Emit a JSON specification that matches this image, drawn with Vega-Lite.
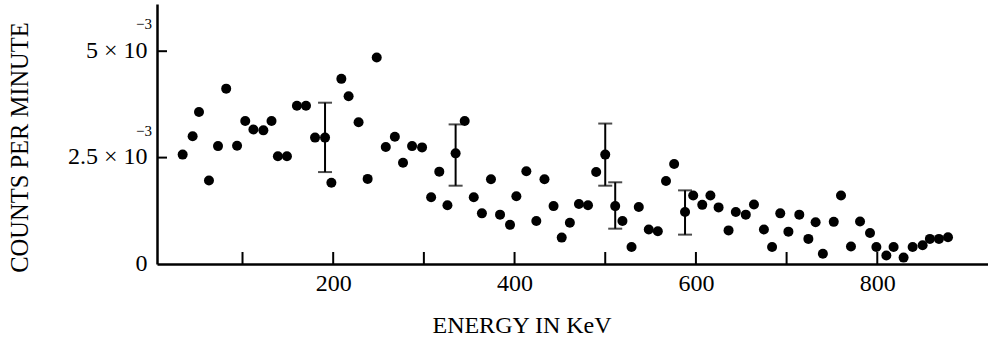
{
  "$schema": "https://vega.github.io/schema/vega-lite/v6.json",
  "autosize": "none",
  "width": 831,
  "height": 260,
  "padding": {"left": 157, "top": 4, "right": 0, "bottom": 75},
  "background": "white",
  "config": {"view": {"stroke": null}},
  "datasets": {
    "points": [
      {"energy": 34, "counts": 0.00257},
      {"energy": 45, "counts": 0.00300},
      {"energy": 52, "counts": 0.00357},
      {"energy": 63, "counts": 0.00196},
      {"energy": 73, "counts": 0.00277},
      {"energy": 82, "counts": 0.00412},
      {"energy": 94, "counts": 0.00278},
      {"energy": 103, "counts": 0.00336},
      {"energy": 112, "counts": 0.00316},
      {"energy": 123, "counts": 0.00314},
      {"energy": 132, "counts": 0.00336},
      {"energy": 139, "counts": 0.00253},
      {"energy": 149, "counts": 0.00253},
      {"energy": 160, "counts": 0.00372},
      {"energy": 170, "counts": 0.00372},
      {"energy": 180, "counts": 0.00297},
      {"energy": 191, "counts": 0.00297, "low": 0.00216, "high": 0.00379},
      {"energy": 198, "counts": 0.00191},
      {"energy": 209, "counts": 0.00435},
      {"energy": 217, "counts": 0.00394},
      {"energy": 228, "counts": 0.00333},
      {"energy": 238, "counts": 0.00200},
      {"energy": 248, "counts": 0.00485},
      {"energy": 258, "counts": 0.00275},
      {"energy": 268, "counts": 0.00299},
      {"energy": 277, "counts": 0.00238},
      {"energy": 287, "counts": 0.00277},
      {"energy": 298, "counts": 0.00274},
      {"energy": 308, "counts": 0.00157},
      {"energy": 317, "counts": 0.00217},
      {"energy": 326, "counts": 0.00138},
      {"energy": 335, "counts": 0.00260, "low": 0.00184, "high": 0.00328},
      {"energy": 345, "counts": 0.00336},
      {"energy": 355, "counts": 0.00157},
      {"energy": 364, "counts": 0.00119},
      {"energy": 374, "counts": 0.00199},
      {"energy": 384, "counts": 0.00116},
      {"energy": 395, "counts": 0.00092},
      {"energy": 402, "counts": 0.00159},
      {"energy": 413, "counts": 0.00218},
      {"energy": 424, "counts": 0.00101},
      {"energy": 433, "counts": 0.00199},
      {"energy": 443, "counts": 0.00136},
      {"energy": 452, "counts": 0.00062},
      {"energy": 461, "counts": 0.00097},
      {"energy": 471, "counts": 0.00141},
      {"energy": 481, "counts": 0.00138},
      {"energy": 490, "counts": 0.00216},
      {"energy": 500, "counts": 0.00257, "low": 0.00184, "high": 0.00330},
      {"energy": 511, "counts": 0.00136, "low": 0.00083, "high": 0.00192},
      {"energy": 519, "counts": 0.00101},
      {"energy": 529, "counts": 0.00040},
      {"energy": 537, "counts": 0.00134},
      {"energy": 548, "counts": 0.00081},
      {"energy": 558, "counts": 0.00077},
      {"energy": 567, "counts": 0.00195},
      {"energy": 576, "counts": 0.00235},
      {"energy": 588, "counts": 0.00122, "low": 0.00069, "high": 0.00173},
      {"energy": 597, "counts": 0.00161},
      {"energy": 607, "counts": 0.00139},
      {"energy": 616, "counts": 0.00161},
      {"energy": 625, "counts": 0.00133},
      {"energy": 636, "counts": 0.00079},
      {"energy": 644, "counts": 0.00122},
      {"energy": 655, "counts": 0.00116},
      {"energy": 664, "counts": 0.00140},
      {"energy": 675, "counts": 0.00081},
      {"energy": 684, "counts": 0.00040},
      {"energy": 693, "counts": 0.00119},
      {"energy": 702, "counts": 0.00076},
      {"energy": 714, "counts": 0.00116},
      {"energy": 724, "counts": 0.00059},
      {"energy": 732, "counts": 0.00098},
      {"energy": 740, "counts": 0.00024},
      {"energy": 752, "counts": 0.00099},
      {"energy": 760, "counts": 0.00161},
      {"energy": 771, "counts": 0.00041},
      {"energy": 781, "counts": 0.00100},
      {"energy": 792, "counts": 0.00073},
      {"energy": 799, "counts": 0.00040},
      {"energy": 810, "counts": 0.00020},
      {"energy": 818, "counts": 0.00040},
      {"energy": 829, "counts": 0.00015},
      {"energy": 839, "counts": 0.00040},
      {"energy": 850, "counts": 0.00044},
      {"energy": 858, "counts": 0.00059},
      {"energy": 868, "counts": 0.00059},
      {"energy": 878, "counts": 0.00063}
    ],
    "exponents": [
      {"counts": 0.005, "text": "−3"},
      {"counts": 0.0025, "text": "−3"}
    ],
    "xticks": [
      {"energy": 100}, {"energy": 200}, {"energy": 300}, {"energy": 400},
      {"energy": 500}, {"energy": 600}, {"energy": 700}, {"energy": 800}
    ],
    "yticks": [
      {"counts": 0.0025}, {"counts": 0.005}
    ]
  },
  "layer": [
    {
      "data": {"name": "points"},
      "mark": {"type": "circle", "size": 100, "color": "black", "opacity": 1},
      "encoding": {
        "x": {
          "field": "energy", "type": "quantitative",
          "scale": {"domain": [5.7, 922.1], "nice": false, "zero": false},
          "axis": {
            "title": "ENERGY IN KeV",
            "values": [200, 400, 600, 800],
            "grid": false,
            "ticks": false, "tickSize": 0,
            "domainColor": "black", "domainWidth": 2.5,
            "labelFont": "Liberation Serif", "labelFontSize": 24, "labelColor": "black",
            "labelPadding": 7, "labelFlush": false,
            "titleFont": "Liberation Serif", "titleFontSize": 24, "titleFontWeight": "normal", "titleColor": "black",
            "titleX": 364.5, "titleY": 68, "titleAlign": "center", "titleBaseline": "alphabetic"
          }
        },
        "y": {
          "field": "counts", "type": "quantitative",
          "scale": {"domain": [0, 0.006109], "nice": false},
          "axis": {
            "title": "COUNTS PER MINUTE",
            "values": [0, 0.0025, 0.005],
            "labelExpr": "datum.value == 0 ? '0' : (datum.value < 0.004 ? '2.5 × 10' : '5 × 10')",
            "grid": false,
            "ticks": false, "tickSize": 0,
            "domainColor": "black", "domainWidth": 2.5,
            "labelFont": "Liberation Serif", "labelFontSize": 24, "labelColor": "black",
            "labelPadding": 10, "labelBaseline": "alphabetic", "labelOffset": 6,
            "titleFont": "Liberation Serif", "titleFontSize": 24.5, "titleFontWeight": "normal", "titleColor": "black",
            "titleX": -130, "titleY": 143, "titleAngle": -90, "titleAlign": "center", "titleBaseline": "alphabetic"
          }
        }
      }
    },
    {
      "data": {"name": "xticks"},
      "mark": {"type": "rule", "color": "black", "strokeWidth": 2, "y2Offset": -12},
      "encoding": {
        "x": {"field": "energy", "type": "quantitative"},
        "y": {"datum": 0, "type": "quantitative"},
        "y2": {"datum": 0}
      }
    },
    {
      "data": {"name": "yticks"},
      "mark": {"type": "rule", "color": "black", "strokeWidth": 2, "x2Offset": 10},
      "encoding": {
        "x": {"datum": 5.7, "type": "quantitative"},
        "x2": {"datum": 5.7},
        "y": {"field": "counts", "type": "quantitative"}
      }
    },
    {
      "data": {"name": "points"},
      "transform": [{"filter": "datum.low != null"}],
      "mark": {"type": "rule", "color": "black", "strokeWidth": 2},
      "encoding": {
        "x": {"field": "energy", "type": "quantitative"},
        "y": {"field": "low", "type": "quantitative"},
        "y2": {"field": "high"}
      }
    },
    {
      "data": {"name": "points"},
      "transform": [{"filter": "datum.low != null"}],
      "mark": {"type": "tick", "orient": "horizontal", "color": "black", "size": 14, "thickness": 2},
      "encoding": {
        "x": {"field": "energy", "type": "quantitative"},
        "y": {"field": "low", "type": "quantitative"}
      }
    },
    {
      "data": {"name": "points"},
      "transform": [{"filter": "datum.low != null"}],
      "mark": {"type": "tick", "orient": "horizontal", "color": "black", "size": 14, "thickness": 2},
      "encoding": {
        "x": {"field": "energy", "type": "quantitative"},
        "y": {"field": "high", "type": "quantitative"}
      }
    },
    {
      "data": {"name": "exponents"},
      "mark": {"type": "text", "font": "Liberation Serif", "fontSize": 15, "color": "black", "align": "right", "baseline": "alphabetic", "dx": -5, "dy": -22},
      "encoding": {
        "x": {"datum": 5.7, "type": "quantitative"},
        "y": {"field": "counts", "type": "quantitative"},
        "text": {"field": "text"}
      }
    }
  ]
}
